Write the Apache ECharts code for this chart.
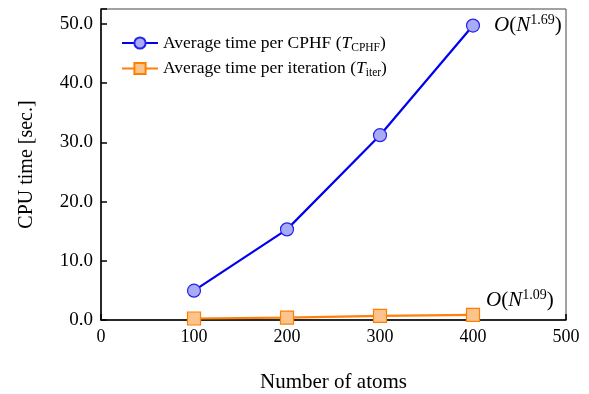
<!DOCTYPE html>
<html><head><meta charset="utf-8">
<script src="https://cdn.jsdelivr.net/npm/echarts@6/dist/echarts.min.js"></script>
<style>html,body{margin:0;padding:0;background:#fff}#c{width:589px;height:394px}</style>
</head><body><div id="c"></div>
<script>
var atoms = [100, 200, 300, 400];
var cphfTime = [4.95, 15.3, 31.2, 49.7];
var iterTime = [0.25, 0.4, 0.7, 0.85];
var xTicks = [0, 100, 200, 300, 400, 500];
var yTicks = [0, 10, 20, 30, 40, 50];
var seriesNames = ['Average time per CPHF', 'Average time per iteration'];
var subs = ['CPHF', 'iter'];
var scalings = ['1.69', '1.09'];

var F = 'Liberation Serif';
var chart = echarts.init(document.getElementById('c'));
function pairs(ys){ return atoms.map(function(x,i){ return [x, ys[i]]; }); }
var richText = {
  n: {fontFamily: F, fontSize: 17.5, color: '#000'},
  i: {fontFamily: F, fontSize: 17.5, fontStyle: 'italic', color: '#000'},
  sub: {fontFamily: F, fontSize: 11.5, color: '#000', padding: [9, 0, 0, 0]},
  O: {fontFamily: F, fontSize: 21, fontStyle: 'italic', color: '#000'},
  p: {fontFamily: F, fontSize: 21, color: '#000'},
  sup: {fontFamily: F, fontSize: 14, color: '#000', padding: [0, 0, 11, 0]}
};
function scaleLabel(k, dx, dy){
  return {
    show: true,
    position: 'right',
    distance: dx,
    offset: [0, dy],
    formatter: function(p){ return p.dataIndex === atoms.length - 1 ? '{O|O}{p|(}{O|N}{sup|' + scalings[k] + '}{p|)}' : ''; },
    rich: richText
  };
}
chart.setOption({
  animation: false,
  backgroundColor: '#fff',
  grid: {left: 101, right: 23, top: 9, bottom: 74, show: true, borderColor: '#444', borderWidth: 1,
         containLabel: false, outerBoundsMode: 'none'},
  legend: {
    left: 116, top: 29, orient: 'vertical', itemWidth: 36, itemHeight: 14, itemGap: 6,
    data: seriesNames,
    formatter: function(name){
      var k = seriesNames.indexOf(name);
      return '{n|' + name + ' (}{i|T}{sub|' + subs[k] + '}{n|)}';
    },
    textStyle: {fontFamily: F, fontSize: 17.5, color: '#000', rich: richText}
  },
  xAxis: {
    type: 'value', min: 0, max: 500, interval: 100,
    name: 'Number of atoms', nameLocation: 'middle', nameGap: 52,
    nameTextStyle: {fontFamily: F, fontSize: 21, color: '#000'},
    axisLine: {lineStyle: {color: '#000', width: 1.5}},
    axisTick: {inside: true, length: 6, lineStyle: {color: '#000', width: 1.5}},
    axisLabel: {fontFamily: F, fontSize: 18, color: '#000', margin: 8,
      formatter: function(v){ return xTicks.indexOf(v) >= 0 ? String(v) : ''; }},
    splitLine: {show: false}
  },
  yAxis: {
    type: 'value', min: 0, max: 52.5, interval: 10,
    name: 'CPU time [sec.]', nameLocation: 'middle', nameGap: 64, nameRotate: 90,
    nameTextStyle: {fontFamily: F, fontSize: 20, color: '#000'},
    axisLine: {lineStyle: {color: '#000', width: 1.5}},
    axisTick: {inside: true, length: 6, lineStyle: {color: '#000', width: 1.5}},
    axisLabel: {fontFamily: F, fontSize: 19, color: '#000', margin: 8,
      formatter: function(v){ return yTicks.indexOf(v) >= 0 ? v.toFixed(1) : ''; }},
    splitLine: {show: false}
  },
  series: [
    {
      name: seriesNames[0], type: 'line', data: pairs(cphfTime),
      symbol: 'circle', symbolSize: 13,
      lineStyle: {color: '#0000f0', width: 2.2},
      itemStyle: {color: '#a9abf5', borderColor: '#2222ee', borderWidth: 1.2},
      label: scaleLabel(0, 14, 0),
      z: 3
    },
    {
      name: seriesNames[1], type: 'line', data: pairs(iterTime),
      symbol: 'rect', symbolSize: 13,
      lineStyle: {color: '#ff800a', width: 2.2},
      itemStyle: {color: '#fcc48c', borderColor: '#ff8000', borderWidth: 1.2},
      label: scaleLabel(1, 6, -14),
      z: 4
    }
  ]
});
</script></body></html>
